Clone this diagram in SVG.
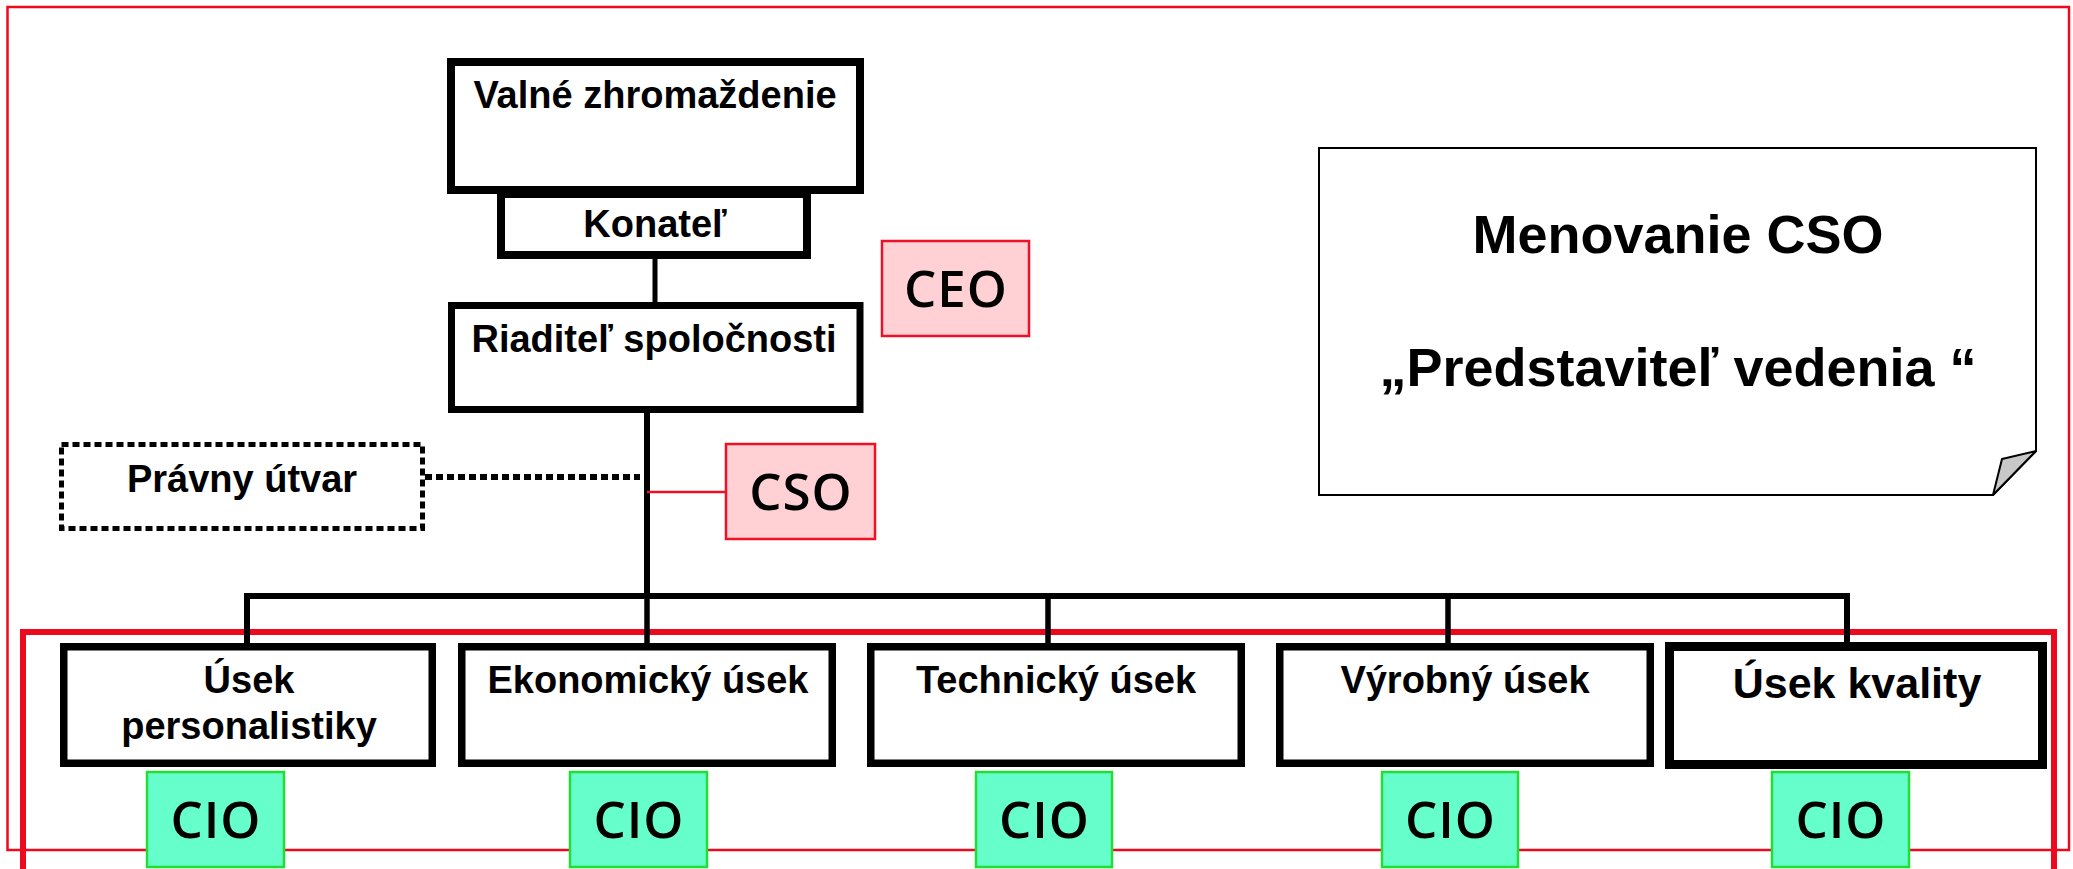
<svg xmlns="http://www.w3.org/2000/svg" width="2073" height="869" viewBox="0 0 2073 869">
  <style>
    .box { fill: #ffffff; stroke: #000000; }
    .lbl { font-family: "Liberation Sans", Arial, sans-serif; font-weight: bold; font-size: 38px; fill: #000000; text-anchor: middle; }
    .lbl.big { font-size: 54px; }
    .lbl.mid { font-size: 43px; }
    .tag { font-family: "Open Sans", "Noto Sans", sans-serif; font-weight: 600; font-size: 51px; letter-spacing: 1px; fill: #000000; text-anchor: middle; }
    .ceo { fill: #ffd0d4; stroke: #ee1126; stroke-width: 2.5; }
    .cio { fill: #66ffcc; stroke: #22dd33; stroke-width: 2.5; }
    .line { stroke: #000000; fill: none; }
    .dotted { stroke-dasharray: 7 4; }
    .frame { fill: none; stroke: #ee0a1e; }
  </style>

  <rect width="2073" height="869" fill="#ffffff"/>

  <!-- frames -->
  <g id="frames">
    <rect class="frame" x="7.5" y="7" width="2061.5" height="843" stroke-width="2.5"/>
    <rect class="frame" x="23" y="632" width="2031" height="300" stroke-width="6"/>
  </g>

  <!-- connectors -->
  <g id="connectors">
    <line class="line" x1="655" y1="259" x2="655" y2="303" stroke-width="5"/>
    <line class="line" x1="647" y1="412" x2="647" y2="596" stroke-width="6"/>
    <polyline class="line" points="247,645 247,596 1847,596 1847,645" stroke-width="6"/>
    <line class="line" x1="647" y1="596" x2="647" y2="645" stroke-width="5.5"/>
    <line class="line" x1="1048" y1="596" x2="1048" y2="645" stroke-width="5.5"/>
    <line class="line" x1="1448" y1="596" x2="1448" y2="645" stroke-width="5.5"/>
    <line class="line dotted" x1="425" y1="477" x2="640" y2="477" stroke-width="6"/>
    <line x1="647" y1="492" x2="727" y2="492" stroke="#ee1126" stroke-width="2.5"/>
  </g>

  <g id="valne">
    <rect class="box" x="451" y="62" width="409" height="128" stroke-width="8"/>
    <text class="lbl" x="655" y="108">Valné zhromaždenie</text>
  </g>

  <g id="konatel">
    <rect class="box" x="501" y="194" width="306" height="61" stroke-width="8"/>
    <text class="lbl" x="655" y="237">Konateľ</text>
  </g>

  <g id="riaditel">
    <rect class="box" x="451.5" y="305.5" width="408.5" height="104" stroke-width="7"/>
    <text class="lbl" x="654" y="352">Riaditeľ spoločnosti</text>
  </g>

  <g id="pravny">
    <rect class="box dotted" x="61.5" y="444.5" width="361" height="84" stroke-width="5"/>
    <text class="lbl" x="242" y="492">Právny útvar</text>
  </g>

  <g id="ceo">
    <rect class="ceo" x="882" y="241" width="147" height="95"/>
    <text class="tag" x="956" y="307">CEO</text>
  </g>

  <g id="cso">
    <rect class="ceo" x="726" y="444" width="149" height="95"/>
    <text class="tag" x="801" y="510">CSO</text>
  </g>

  <g id="note">
    <path d="M1319,148 H2036 V451 L1993,495 H1319 Z" fill="#ffffff" stroke="#000000" stroke-width="2"/>
    <path d="M2036,451 L2002,459 L1993,495 Z" fill="#c8c8c8" stroke="#000000" stroke-width="2" stroke-linejoin="round"/>
    <text class="lbl big" x="1678" y="253">Menovanie CSO</text>
    <text class="lbl big" x="1678" y="386">„Predstaviteľ vedenia “</text>
  </g>

  <g id="usek-personalistiky">
    <rect class="box" x="63.75" y="646.75" width="368.5" height="116.5" stroke-width="7.5"/>
    <text class="lbl" x="249" y="693">Úsek</text>
    <text class="lbl" x="249" y="739">personalistiky</text>
  </g>

  <g id="ekonomicky-usek">
    <rect class="box" x="461.75" y="646.75" width="370.5" height="116.5" stroke-width="7.5"/>
    <text class="lbl" x="648" y="693">Ekonomický úsek</text>
  </g>

  <g id="technicky-usek">
    <rect class="box" x="870.75" y="646.75" width="370.5" height="116.5" stroke-width="7.5"/>
    <text class="lbl" x="1056" y="693">Technický úsek</text>
  </g>

  <g id="vyrobny-usek">
    <rect class="box" x="1279.75" y="646.75" width="370.5" height="116.5" stroke-width="7.5"/>
    <text class="lbl" x="1465" y="693">Výrobný úsek</text>
  </g>

  <g id="usek-kvality">
    <rect class="box" x="1669.5" y="646.5" width="373" height="118" stroke-width="9"/>
    <text class="lbl mid" x="1857" y="698">Úsek kvality</text>
  </g>

  <g id="cio-1">
    <rect class="cio" x="147" y="772" width="137" height="95"/>
    <text class="tag" x="216" y="838">CIO</text>
  </g>
  <g id="cio-2">
    <rect class="cio" x="570" y="772" width="137" height="95"/>
    <text class="tag" x="639" y="838">CIO</text>
  </g>
  <g id="cio-3">
    <rect class="cio" x="976" y="772" width="136" height="95"/>
    <text class="tag" x="1044.5" y="838">CIO</text>
  </g>
  <g id="cio-4">
    <rect class="cio" x="1382" y="772" width="136" height="95"/>
    <text class="tag" x="1450.5" y="838">CIO</text>
  </g>
  <g id="cio-5">
    <rect class="cio" x="1772" y="772" width="137" height="95"/>
    <text class="tag" x="1841" y="838">CIO</text>
  </g>
</svg>
